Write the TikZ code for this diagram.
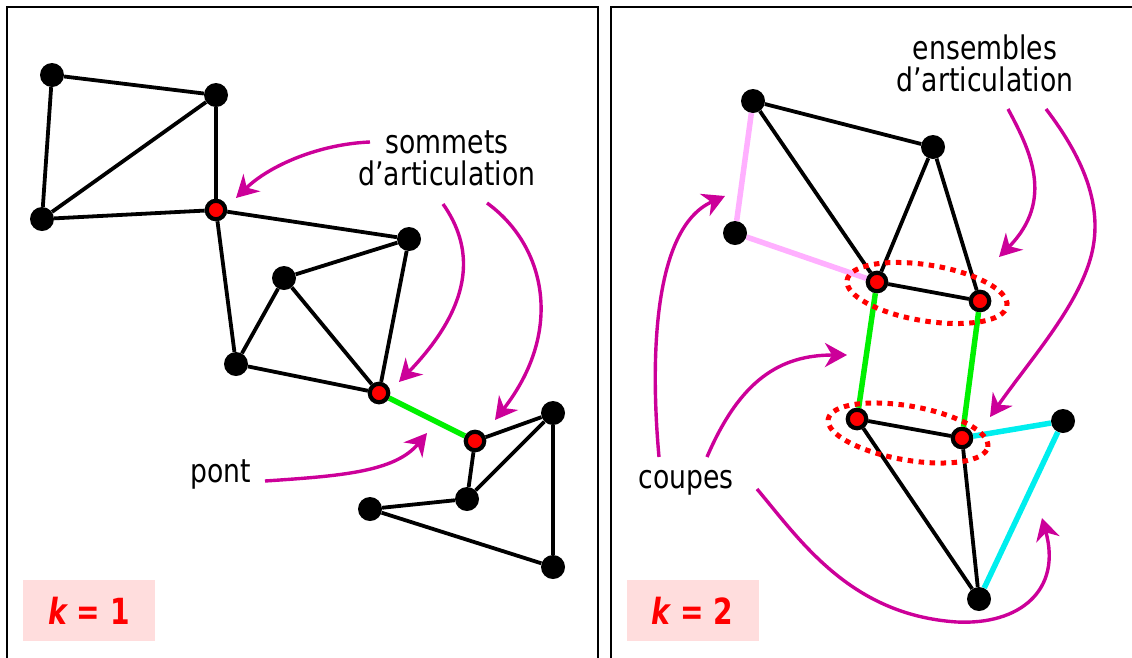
\documentclass[tikz,border=0pt]{standalone}
\usepackage{fontspec}
\setmainfont{DejaVu Sans}
\newfontfamily\lblfont{DejaVu Sans}[FakeStretch=0.82]
\newfontfamily\kfont{DejaVu Sans}[FakeStretch=0.78]
\usetikzlibrary{arrows.meta,shapes.geometric}
\definecolor{mag}{RGB}{204,0,153}
\definecolor{pinkedge}{RGB}{255,176,255}
\definecolor{greenedge}{RGB}{0,240,0}
\definecolor{cyanedge}{RGB}{0,238,238}
\definecolor{kfill}{RGB}{255,221,221}
\begin{document}
\begin{tikzpicture}[x=1pt,y=-1pt,
  bn/.style={circle,fill=black,inner sep=0pt,minimum size=24pt},
  rn/.style={circle,fill=red,draw=black,line width=4.2pt,inner sep=0pt,minimum size=18.5pt},
  ed/.style={line width=3.8pt,black},
  pe/.style={line width=5.5pt,pinkedge},
  ge/.style={line width=5.5pt,greenedge},
  ce/.style={line width=5.5pt,cyanedge},
  frame/.style={line width=2.5pt,black},
  arr/.style={mag,line width=3.4pt,-{Stealth[length=22pt,width=24pt,inset=7pt]}},
  lbl/.style={inner sep=0pt,anchor=base,font=\lblfont\fontsize{32.5}{33}\selectfont},
  kbox/.style={fill=kfill,minimum width=132pt,minimum height=61pt,inner sep=0pt,text=red,font=\kfont\bfseries\fontsize{36}{36}\selectfont},
  dots/.style={draw=red,line width=5pt,dash pattern=on 5.5pt off 5.5pt,ellipse,inner sep=0pt}
]
\useasboundingbox (0,0) rectangle (1132,657);
% frames
\draw[frame] (7,662) -- (7,7) -- (598,7) -- (598,662);
\draw[frame] (611,662) -- (611,7) -- (1140,7);

% ---------- left panel ----------
\node[bn] (A) at (52,75) {};
\node[bn] (B) at (216,95) {};
\node[bn] (C) at (42,219) {};
\node[rn] (D) at (216,210) {};
\node[bn] (E) at (409,239) {};
\node[bn] (F) at (284,278) {};
\node[bn] (G) at (236,364) {};
\node[rn] (H) at (379,393) {};
\node[rn] (I) at (475,441) {};
\node[bn] (J) at (553,413) {};
\node[bn] (K) at (467,499) {};
\node[bn] (L) at (370,509) {};
\node[bn] (M) at (553,567) {};
\draw[ed] (A) -- (B);
\draw[ed] (A) -- (C);
\draw[ed] (C) -- (B);
\draw[ed] (B) -- (D);
\draw[ed] (C) -- (D);
\draw[ed] (D) -- (E);
\draw[ed] (D) -- (G);
\draw[ed] (E) -- (H);
\draw[ed] (F) -- (E);
\draw[ed] (F) -- (G);
\draw[ed] (F) -- (H);
\draw[ed] (G) -- (H);
\draw[ge] (H) -- (I);
\draw[ed] (I) -- (J);
\draw[ed] (I) -- (K);
\draw[ed] (K) -- (J);
\draw[ed] (K) -- (L);
\draw[ed] (L) -- (M);
\draw[ed] (J) -- (M);

\node[lbl] (t1) at (447,153) {sommets};
\node[lbl] (t2) at (447,185) {d’articulation};
\node[lbl] (t3) at (221,482) {pont};
\coordinate (a1s) at (370,142);
\coordinate (a2s) at (443,204);
\coordinate (a3s) at (487,203);
\coordinate (a4s) at (265,481);
\draw[arr] (a1s) .. controls (320,144) and (270,165) .. (236,198);
\draw[arr] (a2s) .. controls (472,245) and (478,300) .. (399,382);
\draw[arr] (a3s) .. controls (545,245) and (565,330) .. (495,420);
\draw[arr] (a4s) .. controls (340,476) and (395,472) .. (427,433);

\node[kbox] (k1) at (89,610.5) {\itshape k\upshape{} = 1};

% ---------- right panel ----------
\node[bn] (P) at (753,101) {};
\node[bn] (Q) at (933,147) {};
\node[bn] (R) at (735,233) {};
\node[rn] (S) at (877,282) {};
\node[rn] (T) at (980,301) {};
\node[rn] (U) at (857,419) {};
\node[rn] (V) at (962,438) {};
\node[bn] (W) at (1063,421) {};
\node[bn] (X) at (979,599) {};
\draw[ed] (P) -- (Q);
\draw[pe] (P) -- (R);
\draw[pe] (R) -- (S);
\draw[ed] (P) -- (S);
\draw[ed] (Q) -- (S);
\draw[ed] (Q) -- (T);
\draw[ed] (S) -- (T);
\draw[ge] (S) -- (U);
\draw[ge] (T) -- (V);
\draw[ed] (U) -- (V);
\draw[ed] (U) -- (X);
\draw[ed] (V) -- (X);
\draw[ce] (V) -- (W);
\draw[ce] (W) -- (X);

\node[dots,minimum width=162pt,minimum height=56pt,rotate=-9.2] (e1) at (927,293) {};
\node[dots,minimum width=162pt,minimum height=54pt,rotate=-9.9] (e2) at (908,433) {};

\node[lbl] (t4) at (985,59) {ensembles};
\node[lbl] (t5) at (985,91) {d’articulation};
\node[lbl] (t6) at (686,488) {coupes};
\coordinate (b1s) at (1008,109);
\coordinate (b2s) at (1046,109);
\coordinate (b3s) at (659,457);
\coordinate (b4s) at (707,457);
\coordinate (b5s) at (757,489);
\draw[arr] (b1s) .. controls (1030,150) and (1055,200) .. (999,257);
\draw[arr] (b2s) .. controls (1085,160) and (1105,210) .. (1090,260) .. controls (1075,310) and (1030,360) .. (990,417);
\draw[arr] (b3s) .. controls (652,380) and (648,230) .. (725,196);
\draw[arr] (b4s) .. controls (740,380) and (780,355) .. (847,355);
\draw[arr] (b5s) .. controls (800,540) and (850,615) .. (957,622) .. controls (1020,625) and (1062,590) .. (1042,518);

\node[kbox] (k2) at (692.5,610.5) {\itshape k\upshape{} = 2};
\end{tikzpicture}
\end{document}
